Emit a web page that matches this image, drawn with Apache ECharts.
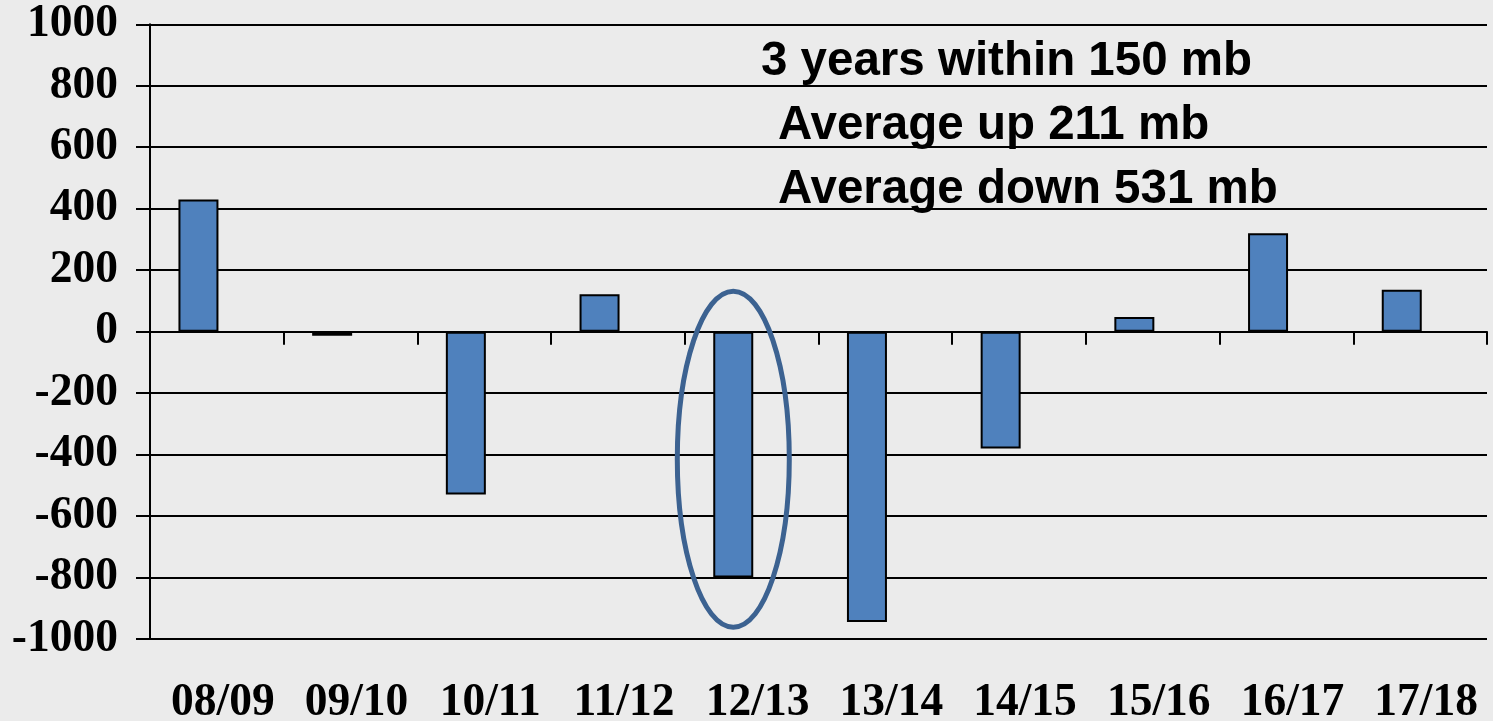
<!DOCTYPE html>
<html>
<head>
<meta charset="utf-8">
<script src="https://cdn.jsdelivr.net/npm/echarts@6/dist/echarts.min.js"></script>
<style>
html,body{margin:0;padding:0;background:#ebebeb;}
#main{width:1493px;height:721px;}
</style>
</head>
<body>
<div id="main"></div>
<script>
const categories = ['08/09','09/10','10/11','11/12','12/13','13/14','14/15','15/16','16/17','17/18'];
const changes = [430, -13, -530, 122, -800, -945, -380, 48, 320, 136];
const emptySeries = [];
const notes = ['3 years within 150 mb', 'Average up 211 mb', 'Average down 531 mb'];
const circledCategory = '12/13';

const serif = '"Liberation Serif","Times New Roman",serif';
const sans = '"Liberation Sans",Arial,sans-serif';

const chart = echarts.init(document.getElementById('main'));
chart.setOption({
  backgroundColor: '#ebebeb',
  animation: false,
  grid: {left: 150, right: 6, top: 24.3, bottom: 82, containLabel: false, outerBoundsMode: 'none'},
  xAxis: [{
    type: 'category', data: categories, boundaryGap: true,
    axisLine: {onZero: true, lineStyle: {color: '#000', width: 2}},
    axisTick: {show: true, length: 13, lineStyle: {color: '#000', width: 2}},
    axisLabel: {show: false},
    splitLine: {show: false}
  }, {
    type: 'category', data: categories, position: 'bottom',
    axisLine: {show: false}, axisTick: {show: false},
    axisLabel: {show: true, interval: 0, hideOverlap: false, margin: 41, padding: [0, 0, 0, 12],
      fontFamily: serif, fontWeight: 'bold', fontSize: 45.5, color: '#000'},
    splitLine: {show: false}
  }],
  yAxis: {
    type: 'value', min: -1000, max: 1000, interval: 200,
    axisLine: {show: true, lineStyle: {color: '#000', width: 2}},
    axisTick: {show: true, length: 14, lineStyle: {color: '#000', width: 2}},
    axisLabel: {margin: 32, fontFamily: serif, fontWeight: 'bold', fontSize: 45.5, color: '#000',
      formatter: function (v) { return String(v); }},
    splitLine: {show: true, lineStyle: {color: '#000', width: 2}}
  },
  series: [{
    type: 'bar', data: changes, xAxisIndex: 0, barWidth: 40, barGap: '-8%',
    itemStyle: {color: '#4f81bd', borderColor: '#000', borderWidth: 2}
  }, {
    type: 'bar', data: emptySeries, xAxisIndex: 0, barWidth: 40
  }]
});

function drawAnnotations() {
  const p = chart.convertToPixel({xAxisIndex: 0, yAxisIndex: 0}, [circledCategory, -415]);
  const band = (chart.getWidth() - 156) / categories.length;
  const cx = p[0] - band * 0.1373;
  const font = 'bold 47.5px ' + sans;
  chart.setOption({
    graphic: [
      {type: 'ellipse', shape: {cx: cx, cy: p[1], rx: 56, ry: 168},
       style: {fill: 'none', stroke: '#3c6291', lineWidth: 5}, z: 100},
      {type: 'text', left: 761, top: 38, style: {text: notes[0], font: font, fill: '#000'}, z: 100},
      {type: 'text', left: 778, top: 102, style: {text: notes[1], font: font, fill: '#000'}, z: 100},
      {type: 'text', left: 778, top: 166, style: {text: notes[2], font: font, fill: '#000'}, z: 100}
    ]
  });
}
drawAnnotations();
</script>
</body>
</html>
